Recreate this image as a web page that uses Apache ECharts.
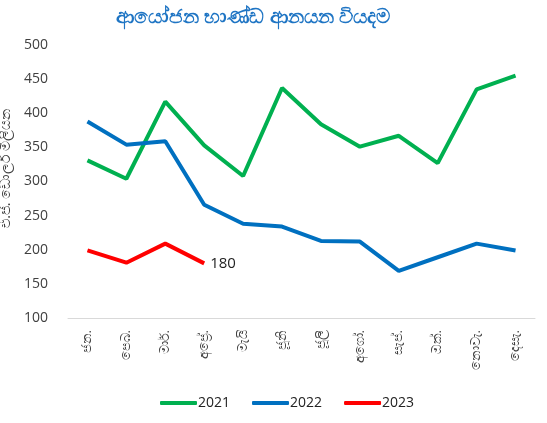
<!DOCTYPE html>
<html>
<head>
<meta charset="utf-8">
<script src="https://cdn.jsdelivr.net/npm/echarts@6/dist/echarts.min.js"></script>
<style>
	html, body { margin: 0; padding: 0; background: #fff; }
	#chart { width: 547px; height: 423px; }
</style>
</head>
<body>
<div id="chart"></div>
<script type="text/javascript">
	// මාස
	var months = ['ජන.', 'පෙබ.', 'මාර්.', 'අප්‍රේ.', 'මැයි', 'ජූනි', 'ජූලි', 'අගෝ.', 'සැප්.', 'ඔක්.', 'නොවැ.', 'දෙසැ.'];
	var data2021 = [331, 304, 417, 353, 308, 437, 384, 351, 367, 327, 435, 455];
	var data2022 = [388, 354, 359, 266, 238, 234, 213, 212, 169, 189, 209, 199];
	var data2023 = [199, 181, 209, 180];
	var yTicks = [100, 150, 200, 250, 300, 350, 400, 450, 500];

	var font = "'Open Sans', 'Noto Sans', sans-serif";
	var lastIdx = data2023.length - 1;

	var option = {
		animation: false,
		title: {
			text: 'ආයෝජන භාණ්ඩ ආනයන වියදම',
			left: 248,
			textAlign: 'center',
			top: 2,
			textStyle: { color: '#1f75c4', fontSize: 19.5, fontWeight: 'bold', fontFamily: font }
		},
		legend: {
			bottom: 8,
			left: 155,
			itemWidth: 37,
			itemHeight: 4,
			itemGap: 22,
			icon: 'roundRect',
			textStyle: { color: '#222', fontSize: 14, fontFamily: font, padding: [0, 0, 0, -4] },
			data: ['2021', '2022', '2023']
		},
		grid: {
			left: 68,
			right: 12,
			top: 45,
			bottom: 105,
			outerBoundsMode: 'none'
		},
		xAxis: {
			type: 'category',
			data: months,
			boundaryGap: true,
			axisLine: { lineStyle: { color: '#d9d9d9' } },
			axisTick: { show: false },
			axisLabel: { rotate: 90, margin: 12, color: '#404040', fontSize: 13, fontFamily: font }
		},
		yAxis: {
			type: 'value',
			min: yTicks[0],
			max: yTicks[yTicks.length - 1],
			interval: 50,
			name: 'එ.ජ. ඩොලර් මිලියන',
			nameLocation: 'middle',
			nameRotate: 90,
			nameGap: 53,
			nameTextStyle: { color: '#404040', fontSize: 14, fontFamily: font, padding: [0, 0, 0, 26] },
			axisLine: { show: false },
			axisTick: { show: false },
			splitLine: { show: false },
			axisLabel: { margin: 20, color: '#404040', fontSize: 14, fontFamily: font }
		},
		series: [
			{
				name: '2021',
				type: 'line',
				data: data2021,
				showSymbol: false,
				symbol: 'none',
				itemStyle: { color: '#00b050' },
				lineStyle: { color: '#00b050', width: 4 }
			},
			{
				name: '2022',
				type: 'line',
				data: data2022,
				showSymbol: false,
				symbol: 'none',
				itemStyle: { color: '#0070c0' },
				lineStyle: { color: '#0070c0', width: 4 }
			},
			{
				name: '2023',
				type: 'line',
				data: data2023,
				symbol: 'none',
				itemStyle: { color: '#ff0000' },
				lineStyle: { color: '#ff0000', width: 4 },
				markPoint: {
					symbol: 'circle',
					symbolSize: 0,
					data: [{ coord: [lastIdx, data2023[lastIdx]], value: data2023[lastIdx] }],
					label: {
						show: true,
						position: 'right',
						distance: 6,
						color: '#222',
						fontSize: 15,
						fontFamily: font
					}
				}
			}
		]
	};

	var myChart = echarts.init(document.getElementById('chart'));
	myChart.setOption(option);
</script>
</body>
</html>
